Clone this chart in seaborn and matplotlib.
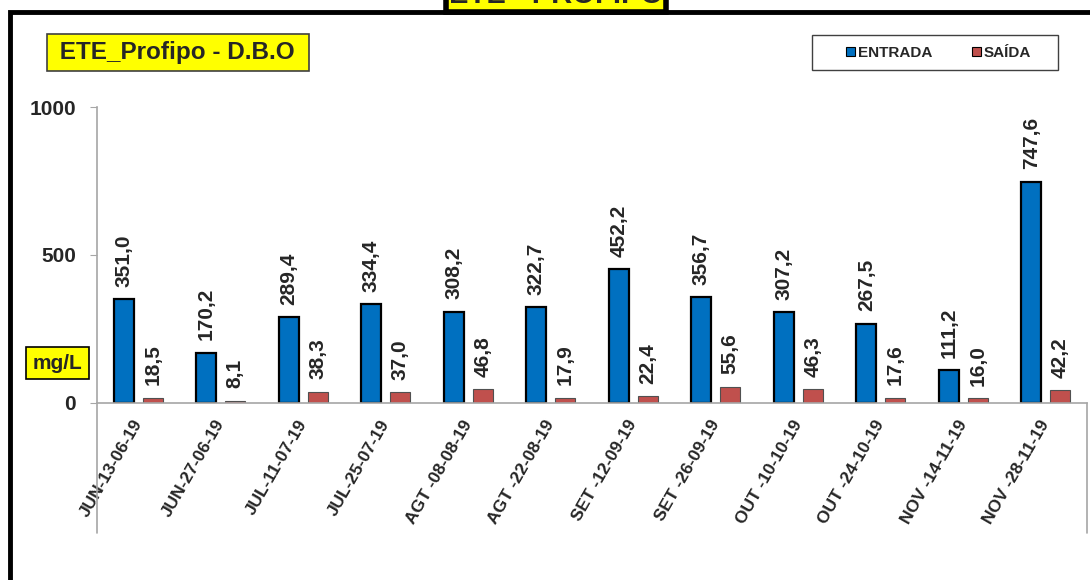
import pandas as pd
import matplotlib.pyplot as plt
import seaborn as sns
from matplotlib.patches import Rectangle

# Dados do gráfico
datas = [
    "JUN-13-06-19", "JUN-27-06-19", "JUL-11-07-19", "JUL-25-07-19",
    "AGT -08-08-19", "AGT -22-08-19", "SET -12-09-19", "SET -26-09-19",
    "OUT -10-10-19", "OUT -24-10-19", "NOV -14-11-19", "NOV -28-11-19",
]
entrada = [351.0, 170.2, 289.4, 334.4, 308.2, 322.7, 452.2, 356.7, 307.2, 267.5, 111.2, 747.6]
saida = [18.5, 8.1, 38.3, 37.0, 46.8, 17.9, 22.4, 55.6, 46.3, 17.6, 16.0, 42.2]
series = ["ENTRADA", "SAÍDA"]
cores = ["#0070C0", "#C0504D"]
yticks = [0, 500, 1000]


def fmt_br(v):
    return f"{v:.1f}".replace(".", ",")


def main():
    sns.set_style("white")
    plt.rcParams["font.family"] = ["Liberation Sans", "DejaVu Sans"]
    plt.rcParams["font.weight"] = "bold"

    df = pd.DataFrame({
        "data": datas * 2,
        "valor": entrada + saida,
        "serie": [series[0]] * len(datas) + [series[1]] * len(datas),
    })

    fig = plt.figure(figsize=(10.9, 5.8), dpi=100)
    ax = fig.add_axes([0.089, 0.3052, 0.9083, 0.5103])

    sns.barplot(
        data=df, x="data", y="valor", hue="serie", hue_order=series,
        palette=cores, width=0.7, gap=0.3, saturation=1, ax=ax,
        errorbar=None, legend=True,
    )

    # bordas das barras
    for bar in ax.containers[0]:
        bar.set_edgecolor("black")
        bar.set_linewidth(1.6)
    for bar in ax.containers[1]:
        bar.set_edgecolor("#505050")
        bar.set_linewidth(0.8)

    # rótulos de valor
    ax.bar_label(ax.containers[0], labels=[fmt_br(v) for v in entrada],
                 rotation=90, padding=9, fontsize=15, fontweight="bold")
    ax.bar_label(ax.containers[1], labels=[fmt_br(v) for v in saida],
                 rotation=90, padding=9, fontsize=15, fontweight="bold")

    ax.set_xlim(-0.5, len(datas) - 0.5)
    ax.set_ylim(0, 1000)
    ax.set_yticks(yticks)
    ax.set_yticklabels([str(t) for t in yticks], fontsize=15, fontweight="bold")
    ax.set_xlabel("")
    ax.set_ylabel("")
    ax.tick_params(axis="y", length=5, color="#A6A6A6", pad=10, left=True)
    ax.tick_params(axis="x", length=0, pad=13)
    for lbl in ax.get_xticklabels():
        lbl.set_rotation(60)
        lbl.set_ha("right")
        lbl.set_va("center")
        lbl.set_rotation_mode("anchor")
        lbl.set_fontsize(12.5)
        lbl.set_fontweight("bold")

    for s in ["top", "right"]:
        ax.spines[s].set_visible(False)
    for s in ["left", "bottom"]:
        ax.spines[s].set_color("#A6A6A6")
        ax.spines[s].set_linewidth(1.2)

    # prolongamento das linhas do eixo abaixo do zero
    for xx in [-0.5, len(datas) - 0.5]:
        ax.plot([xx, xx], [0, -439], color="#A6A6A6", lw=1.2, clip_on=False)

    # legenda (moldura desenhada à parte)
    handles, labels = ax.get_legend_handles_labels()
    ax.get_legend().remove()
    for h in handles:
        h.set_edgecolor("black")
        h.set_linewidth(0.8)
    fig.patches.append(Rectangle(
        (812 / 1090, 1 - 70 / 580), 246 / 1090, 35 / 580, transform=fig.transFigure,
        facecolor="white", edgecolor="#404040", lw=1.0, zorder=2))
    leg = fig.legend(
        handles, labels, loc="center", bbox_to_anchor=(0.861, 0.909), ncol=2,
        handlelength=0.6, handleheight=0.6, handletextpad=0.2,
        columnspacing=2.6, frameon=False, prop={"weight": "bold", "size": 11},
    )
    leg.set_zorder(3)

    # caixas de texto amarelas
    fig.text(0.049, 0.909, " ETE_Profipo - D.B.O ", fontsize=17.5, fontweight="bold",
             va="center", ha="left",
             bbox=dict(boxstyle="square,pad=0.28", facecolor="yellow",
                       edgecolor="#404040", lw=1.2))
    fig.text(0.030, 0.374, "mg/L", fontsize=15, fontweight="bold",
             va="center", ha="left",
             bbox=dict(boxstyle="square,pad=0.3", facecolor="yellow",
                       edgecolor="black", lw=1.2))
    fig.text(0.51, 0.995, "ETE - PROFIPO", fontsize=21, fontweight="bold",
             va="baseline", ha="center",
             bbox=dict(boxstyle="square,pad=0.1", facecolor="yellow",
                       edgecolor="black", lw=4))

    # moldura preta
    fig.patches.append(Rectangle(
        (9.5 / 1090, -0.1), 1.2, 1.1 - 11.5 / 580, transform=fig.transFigure,
        fill=False, edgecolor="black", lw=3.5, zorder=5))

    fig.savefig("out.png", dpi=100)
    plt.close(fig)


if __name__ == "__main__":
    main()
